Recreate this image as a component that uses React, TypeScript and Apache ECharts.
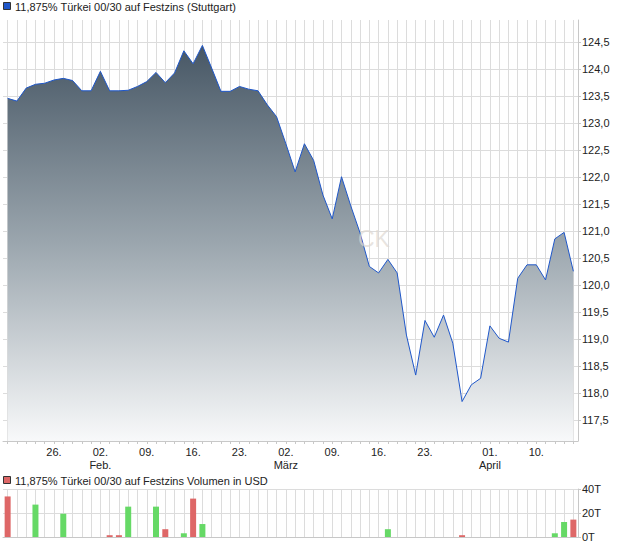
import React, { useEffect, useRef } from "react";
import * as echarts from "echarts";

// Trading days (19 Jan – 16 Apr 2015)
const dates: string[] = [
  "2015-01-19", "2015-01-20", "2015-01-21", "2015-01-22", "2015-01-23",
  "2015-01-26", "2015-01-27", "2015-01-28", "2015-01-29", "2015-01-30",
  "2015-02-02", "2015-02-03", "2015-02-04", "2015-02-05", "2015-02-06",
  "2015-02-09", "2015-02-10", "2015-02-11", "2015-02-12", "2015-02-13",
  "2015-02-16", "2015-02-17", "2015-02-18", "2015-02-19", "2015-02-20",
  "2015-02-23", "2015-02-24", "2015-02-25", "2015-02-26", "2015-02-27",
  "2015-03-02", "2015-03-03", "2015-03-04", "2015-03-05", "2015-03-06",
  "2015-03-09", "2015-03-10", "2015-03-11", "2015-03-12", "2015-03-13",
  "2015-03-16", "2015-03-17", "2015-03-18", "2015-03-19", "2015-03-20",
  "2015-03-23", "2015-03-24", "2015-03-25", "2015-03-26", "2015-03-27",
  "2015-03-30", "2015-03-31", "2015-04-01", "2015-04-02", "2015-04-07",
  "2015-04-08", "2015-04-09", "2015-04-10", "2015-04-13", "2015-04-14",
  "2015-04-15", "2015-04-16",
];

const prices: number[] = [
  123.46, 123.41, 123.65, 123.72, 123.74, 123.8, 123.83, 123.79, 123.6, 123.6,
  123.96, 123.6, 123.6, 123.61, 123.68, 123.77, 123.94, 123.75, 123.93, 124.34,
  124.1, 124.44, 124.02, 123.59, 123.59, 123.68, 123.63, 123.6, 123.34, 123.12,
  122.62, 122.1, 122.62, 122.31, 121.67, 121.23, 122.01, 121.47, 120.97, 120.35,
  120.23, 120.48, 120.23, 119.08, 118.34, 119.35, 119.04, 119.45, 118.93, 117.85,
  118.16, 118.28, 119.25, 119.02, 118.95, 120.13, 120.38, 120.38, 120.1, 120.86,
  120.98, 120.26,
];

// Volume in thousands (T)
const volume: number[] = [
  33.8, 0, 0, 27, 0, 0, 19.3, 0, 0, 0, 0, 1.5, 1.5, 25.3, 0, 0, 25.3, 6.5, 0, 3.1,
  32, 10.8, 0, 0, 0, 0, 0, 0, 0, 0, 0, 0, 0, 0, 0, 0, 0, 0, 0, 0,
  0, 6.5, 0, 0, 0, 0, 0, 0, 0, 1.5, 0, 0, 0, 0, 0, 0, 0, 0, 0, 3.1,
  12.5, 14.5,
];
// Days whose volume bar is red (falling)
const volumeDownDays: number[] = [0, 11, 12, 17, 20, 49, 61];

const xTickLabels: Record<string, string> = {
  "2015-01-26": "26.",
  "2015-02-02": "02.\nFeb.",
  "2015-02-09": "09.",
  "2015-02-16": "16.",
  "2015-02-23": "23.",
  "2015-03-02": "02.\nMärz",
  "2015-03-09": "09.",
  "2015-03-16": "16.",
  "2015-03-23": "23.",
  "2015-04-01": "01.\nApril",
  "2015-04-10": "10.",
};

const priceTitle = "11,875% Türkei 00/30 auf Festzins (Stuttgart)";
const volumeTitle = "11,875% Türkei 00/30 auf Festzins Volumen in USD";

const FONT = '"Liberation Sans", Arial, sans-serif';
const GRID = "#dcdcdc";
const AXIS = "#c8c8c8";
const LINE = "#1f57c9";
const RED = "#de6767";
const GREEN = "#66d966";

export default function App() {
  const ref = useRef<HTMLDivElement>(null);

  useEffect(() => {
    if (!ref.current) return;
    const chart = echarts.init(ref.current, undefined, { renderer: "svg" });
    const downSet = new Set(volumeDownDays);

    const catAxisCommon = {
      type: "category" as const,
      data: dates,
      boundaryGap: true,
      axisLine: { show: true, lineStyle: { color: AXIS, width: 1 } },
      axisTick: {
        show: true,
        alignWithLabel: true,
        interval: 0,
        length: 3,
        lineStyle: { color: AXIS },
      },
      splitLine: {
        show: true,
        interval: 0,
        alignWithLabel: true,
        lineStyle: { color: GRID, width: 1 },
      },
    };

    chart.setOption({
      animation: false,
      backgroundColor: "#ffffff",
      textStyle: { fontFamily: FONT },
      grid: [
        { left: 3, right: 42, top: 20, bottom: 105, containLabel: false },
        { left: 3, right: 42, top: 489, bottom: 9, containLabel: false },
      ],
      xAxis: [
        {
          ...catAxisCommon,
          gridIndex: 0,
          axisLabel: {
            show: true,
            interval: (_i: number, v: string) => v in xTickLabels,
            formatter: (v: string) => xTickLabels[v] || "",
            fontSize: 11,
            fontFamily: FONT,
            color: "#222",
            lineHeight: 13,
            margin: 4,
          },
        },
        {
          ...catAxisCommon,
          gridIndex: 1,
          axisTick: { show: false },
          axisLabel: { show: false },
        },
      ],
      yAxis: [
        {
          type: "value",
          gridIndex: 0,
          position: "right",
          min: 117.12,
          max: 124.91,
          splitNumber: 15,
          minInterval: 0.5,
          maxInterval: 0.5,
          axisLine: { show: true, lineStyle: { color: AXIS } },
          axisTick: { show: true, length: 3, lineStyle: { color: AXIS } },
          axisLabel: {
            showMinLabel: false,
            showMaxLabel: false,
            formatter: (v: number) =>
              Math.abs(v * 2 - Math.round(v * 2)) < 1e-6 ? v.toFixed(1).replace(".", ",") : "",
            fontSize: 11,
            fontFamily: FONT,
            color: "#222",
            margin: 4,
          },
          splitLine: {
            show: true,
            showMinLine: false,
            showMaxLine: false,
            lineStyle: { color: GRID, width: 1 },
          },
        },
        {
          type: "value",
          gridIndex: 1,
          position: "right",
          min: 0,
          max: 40,
          interval: 20,
          axisLine: { show: true, lineStyle: { color: AXIS } },
          axisTick: { show: true, length: 3, lineStyle: { color: AXIS } },
          axisLabel: {
            formatter: (v: number) => `${v}T`,
            fontSize: 11,
            fontFamily: FONT,
            color: "#222",
            margin: 4,
          },
          splitLine: { show: true, lineStyle: { color: GRID, width: 1 } },
        },
      ],
      series: [
        {
          type: "line",
          xAxisIndex: 0,
          yAxisIndex: 0,
          data: prices,
          symbol: "none",
          smooth: false,
          lineStyle: { color: LINE, width: 1 },
          areaStyle: {
            origin: "start",
            opacity: 1,
            color: new echarts.graphic.LinearGradient(0, 0, 0, 1, [
              { offset: 0, color: "#475765" },
              { offset: 0.5, color: "#9ba6ae" },
              { offset: 1, color: "#f8f9fa" },
            ]),
          },
          z: 3,
        },
        {
          type: "bar",
          xAxisIndex: 1,
          yAxisIndex: 1,
          data: volume.map((v) => (v > 0 ? v : null)),
          barWidth: 6,
          itemStyle: {
            color: (p: any) => (downSet.has(p.dataIndex) ? RED : GREEN),
          },
        },
      ],
      graphic: [
        {
          type: "text",
          left: 358,
          top: 227,
          z: 10,
          silent: true,
          style: {
            text: "CK",
            fontSize: 23,
            fontFamily: FONT,
            fill: "rgba(222,216,210,0.7)",
          },
        },
        {
          type: "rect",
          shape: { x: 3.5, y: 2.5, width: 7, height: 7 },
          style: { fill: LINE, stroke: "#333", lineWidth: 1 },
        },
        {
          type: "text",
          x: 15,
          y: 7,
          style: {
            text: priceTitle,
            fontSize: 11,
            fontFamily: FONT,
            fill: "#222",
            verticalAlign: "middle",
          },
        },
        {
          type: "rect",
          shape: { x: 3.5, y: 476.5, width: 7, height: 7 },
          style: { fill: RED, stroke: "#333", lineWidth: 1 },
        },
        {
          type: "text",
          x: 15,
          y: 481,
          style: {
            text: volumeTitle,
            fontSize: 11,
            fontFamily: FONT,
            fill: "#222",
            verticalAlign: "middle",
          },
        },
      ],
    });

    return () => chart.dispose();
  }, []);

  return <div ref={ref} style={{ width: 620, height: 546, position: "absolute", left: 0, top: 0 }} />;
}
